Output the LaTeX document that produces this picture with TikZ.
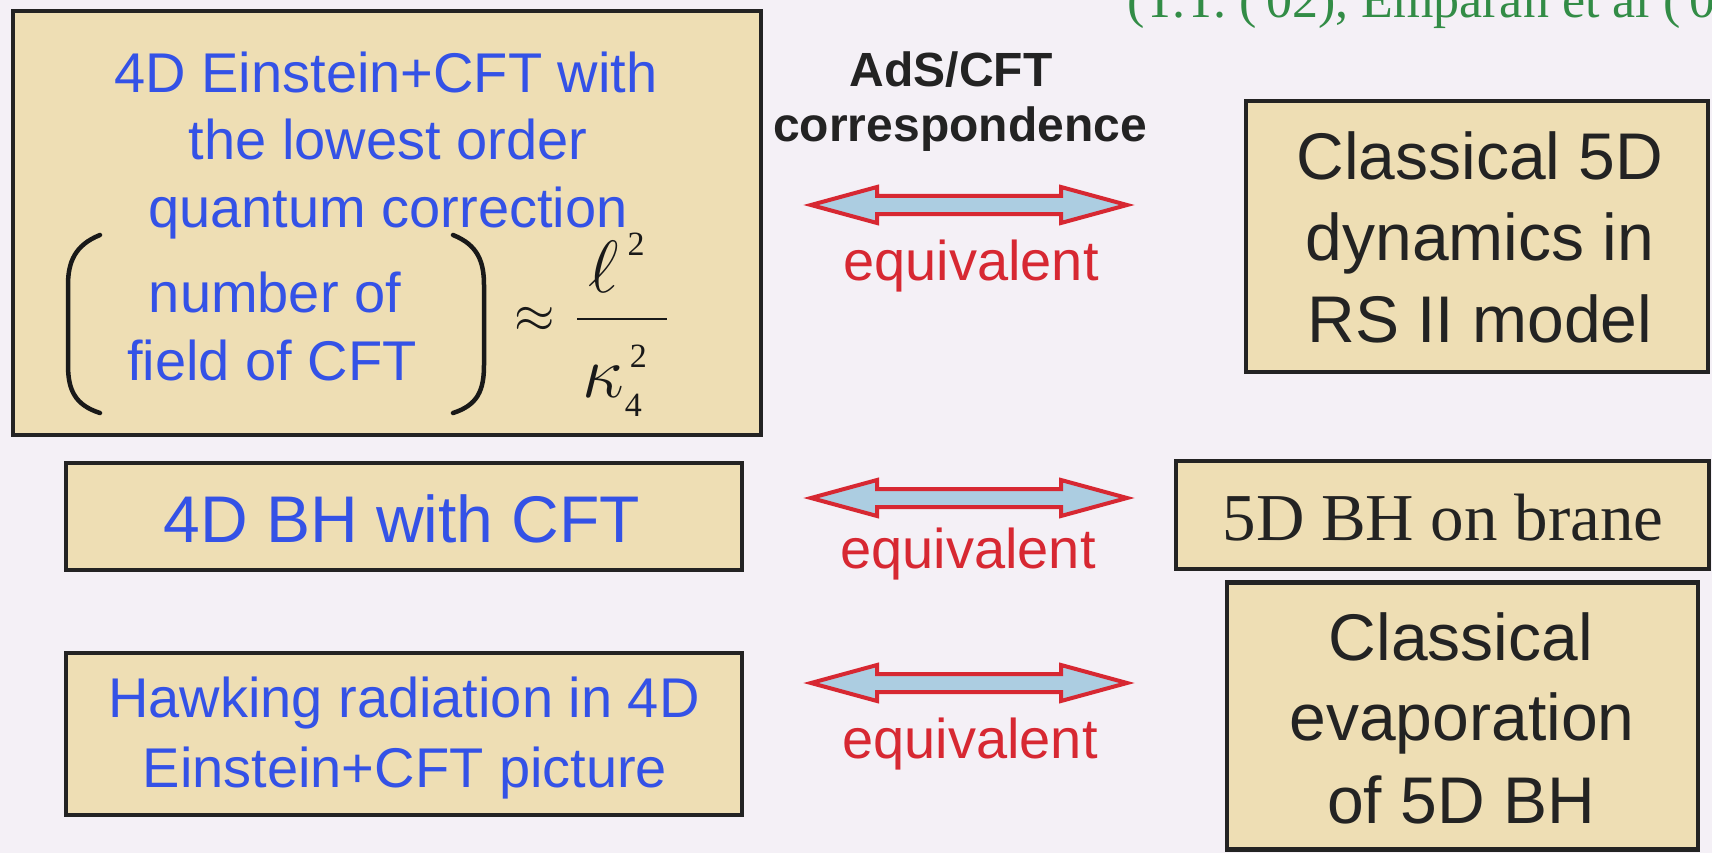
\documentclass[tikz,border=0pt]{standalone}
\usepackage{fix-cm}
\usepackage{fontspec}
\setmainfont{Liberation Sans}
\newfontfamily\serifrm{Liberation Serif}
\usetikzlibrary{calc}
\definecolor{bgc}{RGB}{244,240,246}
\definecolor{boxfill}{RGB}{238,222,180}
\definecolor{boxline}{RGB}{35,35,35}
\definecolor{bluec}{RGB}{52,82,230}
\definecolor{darktxt}{RGB}{35,35,35}
\definecolor{redc}{RGB}{215,40,50}
\definecolor{arrowfill}{RGB}{172,205,225}
\definecolor{greenc}{RGB}{50,140,70}
\definecolor{mathc}{RGB}{25,25,25}
\newcommand\mscript[1]{{\serifrm\fontsize{34}{34}\selectfont #1}}
\newcommand\blockarrow[2]{%
  \draw[barrow] (#1) -- ($(#1)+(66,-18)$) -- ($(#1)+(66,-9)$) -- ($(#2)+(-66,-9)$)
    -- ($(#2)+(-66,-18)$) -- (#2) -- ($(#2)+(-66,18)$) -- ($(#2)+(-66,9)$)
    -- ($(#1)+(66,9)$) -- ($(#1)+(66,18)$) -- cycle;}
\tikzset{
  boxstyle/.style={draw=boxline, fill=boxfill, line width=4.5pt, rectangle, inner sep=0pt},
  bluetxt/.style={text=bluec, font=\fontsize{56}{66}\selectfont, inner sep=0pt, anchor=base},
  bluebig/.style={text=bluec, font=\fontsize{66}{76}\selectfont, inner sep=0pt, anchor=base},
  darkbig/.style={text=darktxt, font=\fontsize{66}{76}\selectfont, inner sep=0pt, anchor=base},
  eqtxt/.style={text=redc, font=\fontsize{56}{66}\selectfont, inner sep=0pt, anchor=base},
  adstxt/.style={text=darktxt, font=\bfseries\fontsize{48}{58}\selectfont, inner sep=0pt, anchor=base},
  mathtxt/.style={text=mathc, font=\fontsize{74}{80}\selectfont, inner sep=0pt},
  barrow/.style={draw=redc, fill=arrowfill, line width=4pt, line join=miter},
  parenline/.style={draw=mathc, line width=4.5pt, line cap=round}
}
\begin{document}
\begin{tikzpicture}[x=1pt,y=-1pt]
\useasboundingbox (0,0) rectangle (1712,853);
\fill[bgc] (0,0) rectangle (1712,853);

% top citation (cut off at the right edge)
\node[text=greenc, font=\serifrm\fontsize{52}{60}\selectfont, inner sep=0pt, anchor=base west] (cite) at (1127,18) {(T.T. ('02), Emparan et al ('02))};

% left column boxes
\node[boxstyle, minimum width=748pt, minimum height=424pt] (box1) at (387,223) {};
\node[boxstyle, minimum width=676pt, minimum height=107pt] (box2) at (404,516.5) {};
\node[boxstyle, minimum width=676pt, minimum height=162pt] (box3) at (404,734) {};

% right column boxes
\node[boxstyle, minimum width=462pt, minimum height=271pt] (box4) at (1477,236.5) {};
\node[boxstyle, minimum width=533pt, minimum height=108pt] (box5) at (1442.5,515) {};
\node[boxstyle, minimum width=471pt, minimum height=267pt] (box6) at (1462.5,716) {};

% box 1 text
\node[bluetxt] (t1a) at (386,93) {4D Einstein+CFT with};
\node[bluetxt] (t1b) at (388,160) {the lowest order};
\node[bluetxt] (t1c) at (388,227) {quantum correction};
\node[bluetxt] (t1d) at (275,312) {number of};
\node[bluetxt] (t1e) at (272,380) {field of CFT};
\draw[parenline] (100,235) .. controls (75,245) and (68,262) .. (68,285) -- (68,365) .. controls (68,390) and (75,405) .. (100,413);
\draw[parenline] (453,235) .. controls (478,245) and (484,262) .. (484,285) -- (484,365) .. controls (484,390) and (478,405) .. (453,413);
\node[mathtxt, font=\fontsize{52}{60}\selectfont, anchor=base] (approx) at (535,332) {$\approx$};
\node[mathtxt, anchor=base west] (num) at (588,292) {$\ell$\kern9pt\raisebox{37pt}{\mscript{2}}};
\node[mathtxt, anchor=base west] (den) at (582,397) {$\kappa$\kern1pt\rlap{\raisebox{-19pt}{\mscript{4}}}\kern5pt\raisebox{30pt}{\mscript{2}}};
\coordinate (barL) at (577,319);
\coordinate (barR) at (667,319);
\draw[draw=mathc, line width=2.5pt] (barL) -- (barR);

% other left texts
\node[bluebig] (t2) at (402,542) {4D BH with CFT};
\node[bluetxt] (t3a) at (404,717) {Hawking radiation in 4D};
\node[bluetxt] (t3b) at (405,787) {Einstein+CFT picture};

% right texts
\node[darkbig] (t4a) at (1480,179) {Classical 5D};
\node[darkbig] (t4b) at (1480,260) {dynamics in};
\node[darkbig] (t4c) at (1480,342) {RS II model};
\node[text=darktxt, font=\serifrm\fontsize{67}{76}\selectfont, inner sep=0pt, anchor=base] (t5) at (1443,540) {5D BH on brane};
\node[darkbig] (t6a) at (1461,660) {Classical};
\node[darkbig] (t6b) at (1462,740) {evaporation};
\node[darkbig] (t6c) at (1461,823) {of 5D BH};

% middle column
\node[adstxt] (ads1) at (951,87) {AdS/CFT};
\node[adstxt] (ads2) at (960,142) {correspondence};

\coordinate (a1L) at (811,205);
\coordinate (a1R) at (1127,205);
\coordinate (a2L) at (811,498);
\coordinate (a2R) at (1127,498);
\coordinate (a3L) at (811,683);
\coordinate (a3R) at (1127,683);
\blockarrow{a1L}{a1R}
\blockarrow{a2L}{a2R}
\blockarrow{a3L}{a3R}
\node[eqtxt] (eq1) at (971,280) {equivalent};
\node[eqtxt] (eq2) at (968,568) {equivalent};
\node[eqtxt] (eq3) at (970,758) {equivalent};
\end{tikzpicture}
\end{document}
